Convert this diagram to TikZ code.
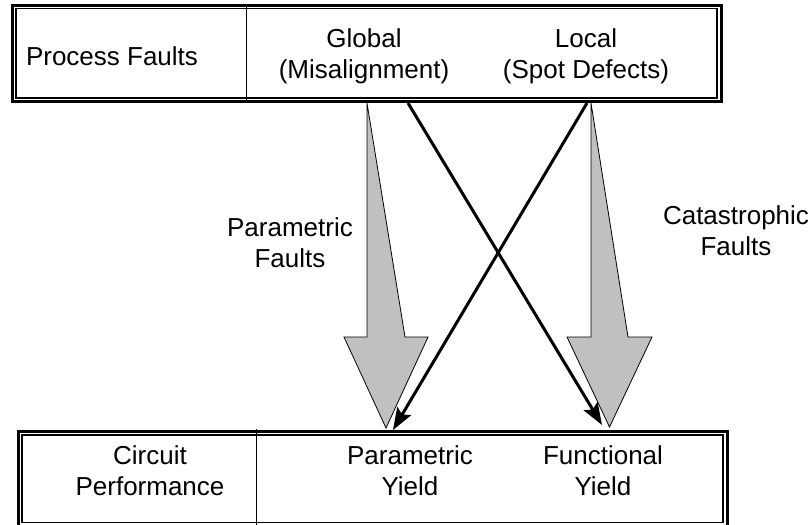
\documentclass[tikz,border=0pt]{standalone}
\usepackage{fontspec}
\setmainfont{Liberation Sans}
\usetikzlibrary{arrows.meta,positioning}
\definecolor{fatgray}{RGB}{192,192,192}

\begin{document}
\begin{tikzpicture}[x=1pt,y=-1pt,
  lbl/.style={align=center,inner sep=0pt,font=\fontsize{26}{31}\selectfont},
  tbox/.style={draw,line width=3pt,inner sep=0pt,minimum width=709pt},
  fat/.style={draw=black,line width=0.8pt,fill=fatgray},
  ray/.style={line width=3pt,-{Stealth[length=22pt,width=16pt,inset=4pt]}}]
\useasboundingbox (0,0) rectangle (812,525);
% the two tables
\node[tbox,minimum height=96pt] (faults) at (366.5,53) {};
\node[tbox,minimum height=95pt] (perf) at (372.5,478.5) {};
\draw[line width=1.8pt] ([shift={(5.5pt,-5pt)}]faults.north west) rectangle ([shift={(-5.5pt,4.5pt)}]faults.south east);
\draw[line width=1.8pt] ([shift={(5.5pt,-5.5pt)}]perf.north west) rectangle ([shift={(-5.5pt,5pt)}]perf.south east);
\draw[line width=1pt] (246,5) -- (246,103);
\draw[line width=1pt] (256,429) -- (256,527);
\node[lbl] (proc) at (112,56) {Process Faults};
\node[lbl] (global) at (364,56) {Global\\(Misalignment)};
\node[lbl] (local) at (586,56) {Local\\(Spot Defects)};
\node[lbl] (circ) at (150,471) {Circuit\\Performance};
\node[lbl] (paryield) at (410,471) {Parametric\\Yield};
\node[lbl] (funyield) at (603,471) {Functional\\Yield};
% fat arrows
\draw[fat] (367,103) -- (367,337) -- (344,337) -- (386,428) -- (428,337) -- (405,337) -- cycle;
\draw[fat] (591,103) -- (591,337) -- (567,337) -- (609.5,427) -- (652,337) -- (628,337) -- cycle;
\node[lbl] (parfault) at (290,243) {Parametric\\Faults};
\node[lbl] (catfault) at (736,231) {Catastrophic\\Faults};
% crossing arrows
\coordinate (gl out) at (408,103);
\coordinate (lo out) at (587,103);
\coordinate (fun in) at (602,425);
\coordinate (par in) at (393,430);
\path[ray]
(gl out) edge (fun in)
(lo out) edge (par in);
\end{tikzpicture}
\end{document}
